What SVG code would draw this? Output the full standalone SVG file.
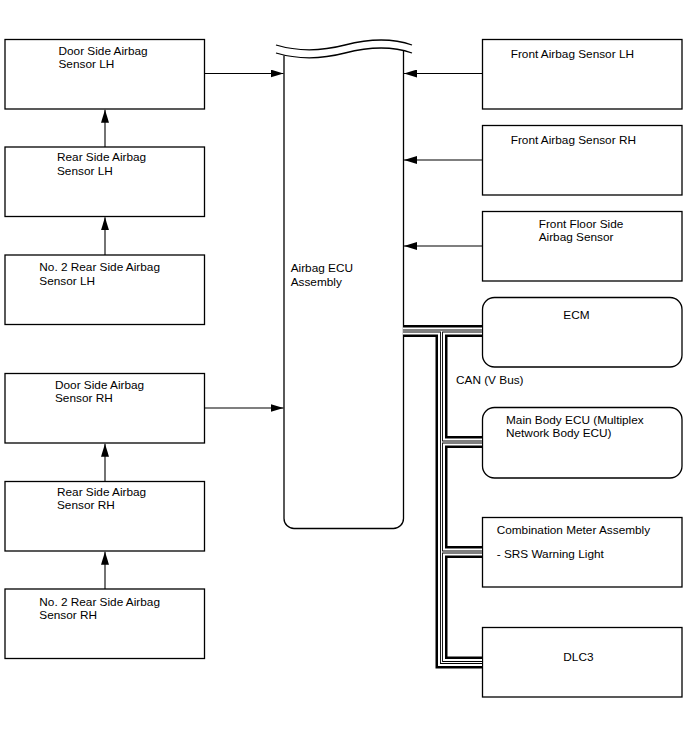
<svg xmlns="http://www.w3.org/2000/svg" xmlns:xlink="http://www.w3.org/1999/xlink" width="688" height="755" viewBox="0 0 688 755">
<style>
.box{fill:#fff;stroke:#000;stroke-width:1.3}
.t{font-family:"Liberation Sans",Arial,sans-serif;font-size:11.8px;fill:#000}
.ln{fill:none;stroke:#000;stroke-width:1.1}
.w{fill:none;stroke:#000;stroke-width:1.3}
.b1{stroke:#000;stroke-width:12;fill:none}
.b2{stroke:#fff;stroke-width:7;fill:none}
.b3{stroke:#000;stroke-width:3;fill:none}
.b4{stroke:#fff;stroke-width:1.2;fill:none}
</style>
<defs>
<marker id="ah" markerUnits="userSpaceOnUse" markerWidth="13" markerHeight="8" refX="13" refY="4" orient="auto">
<path d="M0,0 L13,4 L0,8 Z" fill="#000"/>
</marker>
<path id="bus" d="M403,331 H482 M441.5,331 V662.5 H482 M441.5,442 H482 M441.5,552 H482"/>
</defs>
<rect width="688" height="755" fill="#fff"/>

<g id="ecu">
<path class="w" d="M276,45 C296,51 318,52 345,45 C372,38 395,39 412,45"/>
<path class="w" d="M276,53 C296,59 318,60 345,53 C372,46 395,47 412,53"/>
<path class="w" d="M284,55.5 V518.5 A10,10 0 0 0 294,528.5 H393.5 A10,10 0 0 0 403.5,518.5 V51"/>
<text class="t" x="290.7" y="272">Airbag ECU</text>
<text class="t" x="290.7" y="285.5">Assembly</text>
</g>

<g id="door-lh"><rect class="box" x="5" y="39.5" width="199.5" height="69.5"/>
<text class="t" x="58.5" y="54.7">Door Side Airbag</text><text class="t" x="58.5" y="68.3">Sensor LH</text></g>
<g id="rear-lh"><rect class="box" x="5" y="147" width="199.5" height="69.5"/>
<text class="t" x="57" y="161">Rear Side Airbag</text><text class="t" x="57" y="174.6">Sensor LH</text></g>
<g id="no2-lh"><rect class="box" x="5" y="255" width="199.5" height="69.5"/>
<text class="t" x="39.3" y="271.3">No. 2 Rear Side Airbag</text><text class="t" x="39.3" y="285">Sensor LH</text></g>
<g id="door-rh"><rect class="box" x="5" y="373.5" width="199.5" height="69.5"/>
<text class="t" x="55" y="388.5">Door Side Airbag</text><text class="t" x="55" y="402.2">Sensor RH</text></g>
<g id="rear-rh"><rect class="box" x="5" y="481.5" width="199.5" height="69.5"/>
<text class="t" x="57" y="495.5">Rear Side Airbag</text><text class="t" x="57" y="509.2">Sensor RH</text></g>
<g id="no2-rh"><rect class="box" x="5" y="589" width="199.5" height="69.5"/>
<text class="t" x="39.3" y="605.5">No. 2 Rear Side Airbag</text><text class="t" x="39.3" y="619.2">Sensor RH</text></g>

<g id="front-lh"><rect class="box" x="482.5" y="39.5" width="199.5" height="69.5"/>
<text class="t" x="510.7" y="58">Front Airbag Sensor LH</text></g>
<g id="front-rh"><rect class="box" x="482.5" y="125.5" width="199.5" height="69.5"/>
<text class="t" x="510.7" y="144">Front Airbag Sensor RH</text></g>
<g id="floor"><rect class="box" x="482.5" y="211.5" width="199.5" height="69.5"/>
<text class="t" x="538.7" y="227.7">Front Floor Side</text><text class="t" x="538.7" y="241">Airbag Sensor</text></g>
<g id="ecm"><rect class="box" x="482.5" y="297.5" width="199.5" height="69.5" rx="12"/>
<text class="t" x="563.3" y="318.8">ECM</text></g>
<g id="main-body"><rect class="box" x="482.5" y="407.5" width="199.5" height="70.5" rx="12"/>
<text class="t" x="506" y="424">Main Body ECU (Multiplex</text><text class="t" x="506" y="437.3">Network Body ECU)</text></g>
<g id="combo"><rect class="box" x="482.5" y="517.5" width="199.5" height="69.5"/>
<text class="t" x="496.7" y="533.6">Combination Meter Assembly</text><text class="t" x="496.7" y="558">- SRS Warning Light</text></g>
<g id="dlc3"><rect class="box" x="482.5" y="627.5" width="199.5" height="69.5"/>
<text class="t" x="563.3" y="661.3">DLC3</text></g>

<g id="connectors">
<line class="ln" x1="205" y1="73.5" x2="283.5" y2="73.5" marker-end="url(#ah)"/>
<line class="ln" x1="205" y1="408" x2="283.5" y2="408" marker-end="url(#ah)"/>
<line class="ln" x1="105" y1="147" x2="105" y2="109.7" marker-end="url(#ah)"/>
<line class="ln" x1="105" y1="255" x2="105" y2="217.2" marker-end="url(#ah)"/>
<line class="ln" x1="105" y1="481.5" x2="105" y2="443.7" marker-end="url(#ah)"/>
<line class="ln" x1="105" y1="589" x2="105" y2="551.7" marker-end="url(#ah)"/>
<line class="ln" x1="482" y1="73.5" x2="404" y2="73.5" marker-end="url(#ah)"/>
<line class="ln" x1="482" y1="160" x2="404" y2="160" marker-end="url(#ah)"/>
<line class="ln" x1="482" y1="246" x2="404" y2="246" marker-end="url(#ah)"/>
<g id="can-bus">
<use xlink:href="#bus" class="b1"/>
<use xlink:href="#bus" class="b2"/>
<use xlink:href="#bus" class="b3"/>
<use xlink:href="#bus" class="b4"/>
</g>
<text class="t" x="456" y="384">CAN (V Bus)</text>
</g>
</svg>
